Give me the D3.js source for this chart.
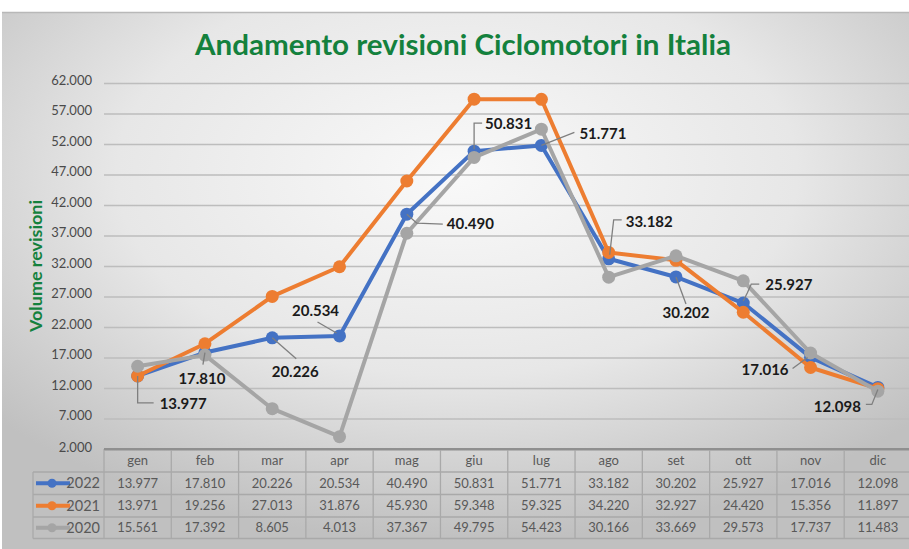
<!DOCTYPE html>
<html>
<head>
<meta charset="utf-8">
<script src="https://cdn.jsdelivr.net/npm/d3@7"></script>
<style>
  html, body { margin: 0; padding: 0; background: #fff; }
  svg { display: block; }
</style>
</head>
<body>
<svg width="909" height="549"></svg>
<script>
(function () {
  const months = ["gen", "feb", "mar", "apr", "mag", "giu", "lug", "ago", "set", "ott", "nov", "dic"];
  const years = ["2022", "2021", "2020"];
  const v2022 = [13977, 17810, 20226, 20534, 40490, 50831, 51771, 33182, 30202, 25927, 17016, 12098];
  const v2021 = [13971, 19256, 27013, 31876, 45930, 59348, 59325, 34220, 32927, 24420, 15356, 11897];
  const v2020 = [15561, 17392, 8605, 4013, 37367, 49795, 54423, 30166, 33669, 29573, 17737, 11483];
  const yTicks = [2000, 7000, 12000, 17000, 22000, 27000, 32000, 37000, 42000, 47000, 52000, 57000, 62000];

  const colors = ["#4472c4", "#ed7d31", "#a5a5a5"];
  const series = [v2022, v2021, v2020];

  // where the 2022 data labels sit, relative to the point (label, leader line)
  const labelPos = [
    { dx: 22, dy: 28, anchor: "start", leader: [[0, 0], [0, 27], [16, 27]] },
    { dx: -3, dy: 26, anchor: "middle", leader: [[0, 0], [-2, 12]] },
    { dx: 23, dy: 34, anchor: "middle", leader: [[0, 0], [24, 21]] },
    { dx: -24, dy: -25, anchor: "middle", leader: [[-3, -3], [-22, -14]] },
    { dx: 40, dy: 10, anchor: "start", leader: [[0, 0], [10, 9], [36, 10]] },
    { dx: 11, dy: -27, anchor: "start", leader: [[0, -2], [0, -28], [8, -28]] },
    { dx: 38, dy: -12, anchor: "start", leader: [[0, 0], [33, -13]] },
    { dx: 17, dy: -37, anchor: "start", leader: [[1, -4], [5, -39], [13, -39]] },
    { dx: 10, dy: 36, anchor: "middle", leader: [[0, 0], [10, 27]] },
    { dx: 22, dy: -18, anchor: "start", leader: [[0, -2], [4, -10], [8, -19], [16, -19]] },
    { dx: -22, dy: 12, anchor: "end", leader: [[-3, 0], [-18, 11]] },
    { dx: -17, dy: 19, anchor: "end", leader: [[0, 2], [-6, 17], [-12, 17]] }
  ];

  const svg = d3.select("svg");
  const defs = svg.append("defs");
  const grad = defs.append("radialGradient")
    .attr("id", "bg")
    .attr("cx", "50%").attr("cy", "30%").attr("r", "68%");
  grad.append("stop").attr("offset", "0%").attr("stop-color", "#f9f9f9");
  grad.append("stop").attr("offset", "55%").attr("stop-color", "#e7e7e7");
  grad.append("stop").attr("offset", "100%").attr("stop-color", "#c0c0c0");

  svg.append("rect")
    .attr("x", 2).attr("y", 12)
    .attr("width", 910).attr("height", 540)
    .attr("fill", "url(#bg)");
  svg.append("line")
    .attr("x1", 2).attr("x2", 909).attr("y1", 12.5).attr("y2", 12.5)
    .attr("stroke", "#b8b8b8").attr("stroke-width", 1.5);

  const x = d3.scaleBand().domain(months).range([104, 911.5]);
  const y = d3.scaleLinear().domain([2000, 62000]).range([449, 83]);
  const cx = (m) => x(m) + x.bandwidth() / 2;

  // title
  svg.append("text")
    .attr("x", 463).attr("y", 55)
    .attr("text-anchor", "middle")
    .attr("font-family", "Lato, 'Open Sans', sans-serif")
    .attr("font-weight", "bold")
    .attr("font-size", 29)
    .attr("textLength", 536)
    .attr("lengthAdjust", "spacingAndGlyphs")
    .attr("fill", "#14813d")
    .text("Andamento revisioni Ciclomotori in Italia");

  svg.append("text")
    .attr("transform", "translate(42, 266) rotate(-90)")
    .attr("text-anchor", "middle")
    .attr("font-family", "Lato, 'Open Sans', sans-serif")
    .attr("font-weight", "bold")
    .attr("font-size", 17.5)
    .attr("textLength", 132)
    .attr("lengthAdjust", "spacingAndGlyphs")
    .attr("fill", "#14813d")
    .text("Volume revisioni");

  // grid + y axis
  const yAxis = svg.append("g")
    .attr("transform", "translate(104, 0)")
    .call(d3.axisLeft(y).tickValues(yTicks)
      .tickSize(-(911.5 - 104))
      .tickPadding(12)
      .tickFormat((d) => d3.format(",.3f")(d / 1000).replace(",", "")));
  yAxis.select(".domain").remove();
  yAxis.selectAll(".tick line")
    .attr("stroke", (d) => d === 2000 ? "#8f8f8f" : "#bdbdbd")
    .attr("stroke-width", (d) => d === 2000 ? 2 : 1.5);
  yAxis.selectAll(".tick text")
    .attr("font-family", "Lato, 'Open Sans', sans-serif")
    .attr("font-size", 13)
    .attr("fill", "#4a4a4a")
    .attr("dy", "0.1em");
  yAxis.selectAll(".tick").filter((d) => d === 2000).select("text").attr("dy", "0.2em");

  // lines
  const line = d3.line().x((d, i) => cx(months[i])).y((d) => y(d));
  series.forEach((s, k) => {
    const g = svg.append("g");
    g.append("path")
      .datum(s)
      .attr("d", line)
      .attr("fill", "none")
      .attr("stroke", colors[k])
      .attr("stroke-width", 4)
      .attr("stroke-linejoin", "round");
    g.selectAll("circle")
      .data(s)
      .enter()
      .append("circle")
      .attr("cx", (d, i) => cx(months[i]))
      .attr("cy", (d) => y(d))
      .attr("r", 6.5)
      .attr("fill", colors[k]);
  });

  // data labels for 2022
  const fmt = (d) => d3.format(",")(d).replace(",", ".");
  const lab = svg.append("g");
  v2022.forEach((d, i) => {
    const px = cx(months[i]), py = y(d);
    const p = labelPos[i];
    lab.append("path")
      .attr("d", d3.line()(p.leader.map((q) => [px + q[0], py + q[1]])))
      .attr("fill", "none")
      .attr("stroke", "#7f7f7f")
      .attr("stroke-width", 1.3);
    lab.append("text")
      .attr("x", px + p.dx).attr("y", py + p.dy)
      .attr("dy", "0.35em")
      .attr("text-anchor", p.anchor)
      .attr("font-family", "Lato, 'Open Sans', sans-serif")
      .attr("font-weight", "bold")
      .attr("font-size", 15)
      .attr("fill", "#1a1a1a")
      .text(fmt(d));
  });

  // data table
  const rowTop = [449, 472, 494.5, 517, 538.5];
  const table = svg.append("g");
  const tStroke = "#a9a9a9";
  rowTop.slice(1).forEach((ry) => {
    table.append("line")
      .attr("x1", 33).attr("x2", 911.5)
      .attr("y1", ry).attr("y2", ry)
      .attr("stroke", tStroke).attr("stroke-width", 1.3);
  });
  months.forEach((m) => {
    table.append("line")
      .attr("x1", x(m)).attr("x2", x(m))
      .attr("y1", 449).attr("y2", 538.5)
      .attr("stroke", tStroke).attr("stroke-width", 1.3);
  });
  table.append("line")
    .attr("x1", 33).attr("x2", 33).attr("y1", 472).attr("y2", 538.5)
    .attr("stroke", tStroke).attr("stroke-width", 1.3);
  table.append("line")
    .attr("x1", 104).attr("x2", 911.5).attr("y1", 449).attr("y2", 449)
    .attr("stroke", "#8f8f8f").attr("stroke-width", 2);

  const cellFont = (sel) => sel
    .attr("font-family", "Lato, 'Open Sans', sans-serif")
    .attr("font-size", 13)
    .attr("fill", "#595959");

  table.selectAll(".hdr")
    .data(months)
    .enter()
    .append("text")
    .attr("x", (m) => cx(m))
    .attr("y", (rowTop[0] + rowTop[1]) / 2)
    .attr("dy", "0.35em")
    .attr("text-anchor", "middle")
    .call(cellFont)
    .text((m) => m);

  series.forEach((s, k) => {
    const ry = (rowTop[k + 1] + rowTop[k + 2]) / 2;
    table.selectAll(".r" + k)
      .data(s)
      .enter()
      .append("text")
      .attr("x", (d, i) => cx(months[i]))
      .attr("y", ry)
      .attr("dy", "0.35em")
      .attr("text-anchor", "middle")
      .call(cellFont)
      .text(fmt);
    table.append("line")
      .attr("x1", 36).attr("x2", 70).attr("y1", ry).attr("y2", ry)
      .attr("stroke", colors[k]).attr("stroke-width", 4);
    table.append("circle")
      .attr("cx", 52).attr("cy", ry).attr("r", 4.5)
      .attr("fill", colors[k]);
    table.append("text")
      .attr("x", 100).attr("y", ry)
      .attr("dy", "0.35em")
      .attr("text-anchor", "end")
      .call(cellFont)
      .attr("font-size", 14.5)
      .text(years[k]);
  });
})();
</script>
</body>
</html>
